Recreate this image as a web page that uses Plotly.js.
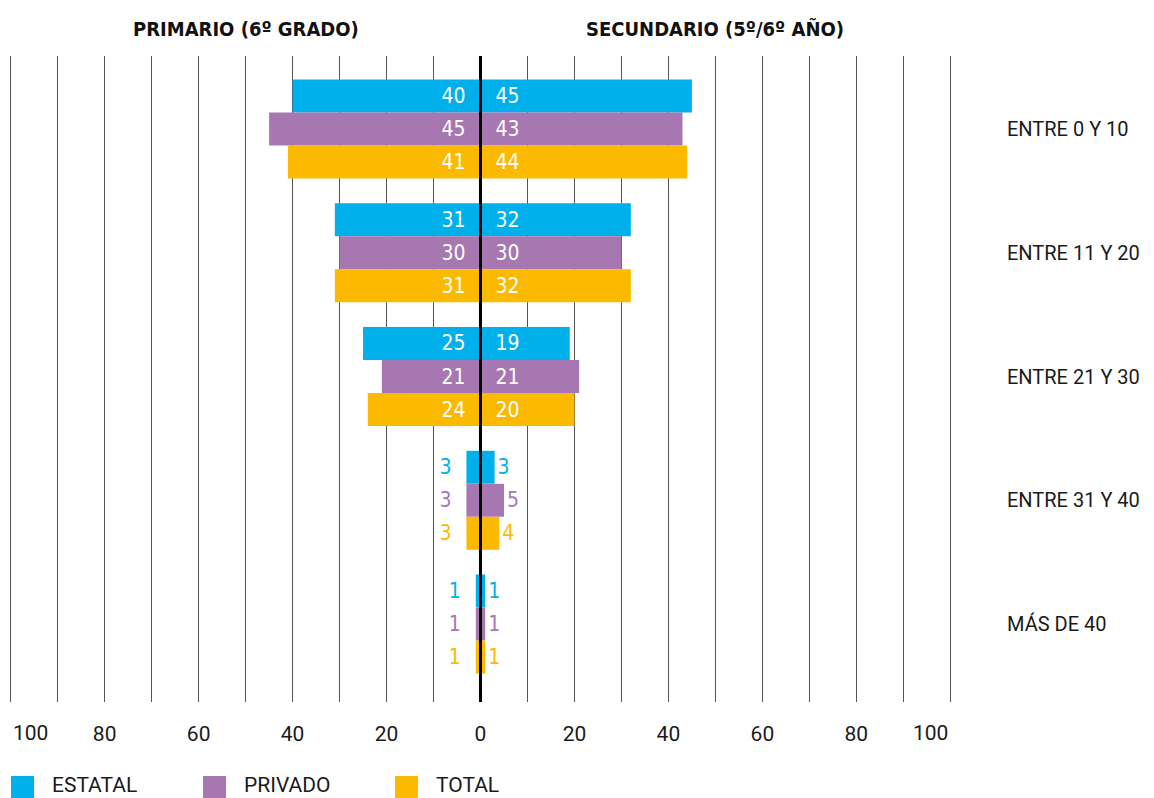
<!DOCTYPE html>
<html><head><meta charset="utf-8">
<script src="https://cdn.plot.ly/plotly-3.0.1.min.js"></script>
<style>html,body{margin:0;padding:0;background:#fff}#chart{width:1154px;height:798px}</style>
</head><body><div id="chart"></div>
<script>
const categories = ['ENTRE 0 Y 10','ENTRE 11 Y 20','ENTRE 21 Y 30','ENTRE 31 Y 40','MÁS DE 40'];
const seriesNames = ['ESTATAL','PRIVADO','TOTAL'];
const primarioEstatal = [40,31,25,3,1];
const primarioPrivado = [45,30,21,3,1];
const primarioTotal = [41,31,24,3,1];
const secundarioEstatal = [45,32,19,3,1];
const secundarioPrivado = [43,30,21,5,1];
const secundarioTotal = [44,32,20,4,1];
const tickValues = [-80,-60,-40,-20,0,20,40,60,80];
const tickLabels = ['80','60','40','20','0','20','40','60','80'];
const edgeTickValues = [-100,100];
const edgeTickLabels = ['100','100'];
const panelTitles = ['PRIMARIO (6º GRADO)','SECUNDARIO (5º/6º AÑO)'];

const colors = ['#00B0EA','#A777B1','#FBB900'];
const offsets = [-0.4,-0.133,0.134];
const barW = 0.266;
const NB = '\u00A0';
const numFont = "'Liberation Sans Narrow','DejaVu Sans Condensed','Roboto Condensed',sans-serif";
const txtFont = "Roboto, 'Noto Sans', sans-serif";

const primario = [primarioEstatal, primarioPrivado, primarioTotal];
const secundario = [secundarioEstatal, secundarioPrivado, secundarioTotal];

const traces = [];
seriesNames.forEach((name, i) => {
  const pv = primario[i], sv = secundario[i];
  traces.push({
    type:'bar', orientation:'h', name:name, showlegend:false,
    y: categories, x: pv.map(v => -v),
    width: barW, offset: offsets[i],
    marker:{color:colors[i], line:{width:0}},
    text: pv.map(v => v + NB + NB),
    textposition: pv.map(v => v >= 10 ? 'inside' : 'outside'),
    insidetextanchor:'start', constraintext:'none', cliponaxis:false,
    insidetextfont:{family:numFont, size:21, color:'#ffffff'},
    outsidetextfont:{family:numFont, size:21, color:colors[i]},
    hoverinfo:'skip'
  });
  traces.push({
    type:'bar', orientation:'h', name:name, showlegend:false,
    y: categories, x: sv,
    width: barW, offset: offsets[i],
    marker:{color:colors[i], line:{width:0}},
    text: sv.map(v => v >= 10 ? NB + NB + v : String(v)),
    textposition: sv.map(v => v >= 10 ? 'inside' : 'outside'),
    insidetextanchor:'start', constraintext:'none', cliponaxis:false,
    insidetextfont:{family:numFont, size:21, color:'#ffffff'},
    outsidetextfont:{family:numFont, size:21, color:colors[i]},
    hoverinfo:'skip'
  });
});

const L = 6, R = 955, T = 56, B = 702, W = R - L, H = B - T;
const px = x => (x - L) / W;
const py = y => (B - y) / H;

const shapes = [{
  type:'line', xref:'x', yref:'paper', x0:0, x1:0, y0:0, y1:1,
  line:{color:'#000', width:3}, layer:'above'
}];
const annotations = [];
panelTitles.forEach((t, i) => {
  annotations.push({
    text:t, xref:'x', yref:'paper', x: i === 0 ? -50 : 50, y: py(29),
    xanchor:'center', yanchor:'middle', showarrow:false,
    font:{family:numFont, size:20, color:'#111', weight:700}
  });
});
edgeTickValues.forEach((v, i) => {
  annotations.push({
    text:edgeTickLabels[i], xref:'x', yref:'paper', x:v, y:py(733),
    xanchor: v < 0 ? 'left' : 'right', yanchor:'middle', showarrow:false,
    font:{family:txtFont, size:21, color:'#1a1a1a'}
  });
});
const legendX = [11, 203, 395];
seriesNames.forEach((name, i) => {
  shapes.push({
    type:'rect', xref:'paper', yref:'paper',
    x0: px(legendX[i]), x1: px(legendX[i] + 23), y0: py(776), y1: py(800),
    fillcolor: colors[i], line:{width:0}
  });
  annotations.push({
    text:name, xref:'paper', yref:'paper', x: px(legendX[i] + 39), y: py(785),
    xanchor:'left', yanchor:'middle', showarrow:false,
    font:{family:txtFont, size:21, color:'#1a1a1a'}
  });
});

const layout = {
  width:1154, height:798,
  margin:{l:L, r:1154 - R, t:T, b:798 - B, pad:0},
  paper_bgcolor:'#fff', plot_bgcolor:'#fff',
  barmode:'overlay', showlegend:false,
  xaxis:{
    range:[-101,101], tickmode:'array', tickvals:tickValues, ticktext:tickLabels,
    showgrid:true, gridcolor:'#555', gridwidth:1, zeroline:false, showline:false,
    ticks:'', ticklabelstandoff:17,
    tickfont:{family:txtFont, size:21, color:'#1a1a1a'},
    minor:{tickmode:'linear', tick0:0, dtick:10, showgrid:true, gridcolor:'#555', gridwidth:1, ticks:''},
    fixedrange:true
  },
  yaxis:{
    type:'category', categoryarray:categories, categoryorder:'array',
    range:[4.63,-0.59], side:'right', showgrid:false, zeroline:false, showline:false,
    ticks:'', ticklabelstandoff:51,
    tickfont:{family:txtFont, size:20, color:'#1a1a1a'},
    fixedrange:true
  },
  shapes:shapes, annotations:annotations
};
Plotly.newPlot('chart', traces, layout, {displayModeBar:false, staticPlot:true});
</script>
</body></html>
